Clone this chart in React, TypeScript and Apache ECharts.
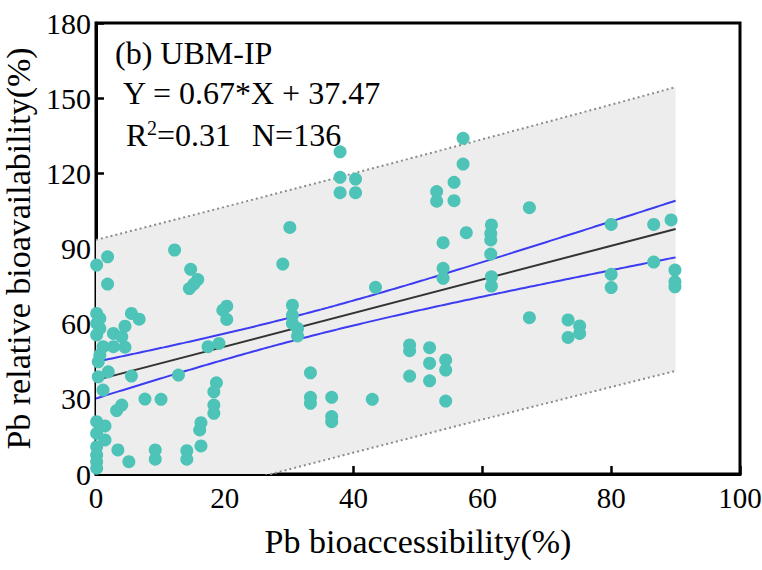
import React, { useEffect, useRef } from "react";
import * as echarts from "echarts";

// Pb bioaccessibility (%) of each sample, paired with bioavailability below
const bioaccessibility = [
  12.2, 1.8, 0.1, 1.8, 14.7, 15.8, 15.2, 14.5, 20.3, 19.7, 20.3, 0.1, 0.6, 0.1, 0.6, 0.1,
  5.5, 6.7, 4.5, 2.7, 4.0, 1.1, 2.7, 4.5, 0.6, 0.35, 17.4, 19.1, 1.9, 0.35, 5.5, 12.8,
  1.1, 18.7, 18.3, 7.6, 10.1, 4.0, 3.2, 18.3, 18.3, 0.1, 1.4, 0.1, 1.4, 0.1, 0.1, 0.1,
  0.1, 3.4, 5.1, 9.2, 9.2, 14.1, 14.1, 16.3, 16.1, 16.3,
  37.9, 37.9, 40.3, 37.9, 40.3, 30.1, 29.0, 57.0, 57.0, 55.6, 52.9, 52.9, 55.6, 57.5,
  53.9, 53.9, 53.9, 61.4, 61.3, 61.3, 61.3, 61.4, 61.4, 43.4, 30.5, 30.5, 30.5, 31.3,
  31.3, 33.3, 33.3, 33.3, 36.6, 36.6, 36.6, 42.9, 48.7, 48.7, 48.7, 51.8, 51.8, 51.8,
  54.3, 54.3, 54.3,
  67.3, 67.3, 80.0, 80.0, 80.0, 86.6, 89.3, 86.6, 89.9, 89.9, 89.9, 73.3, 73.3, 75.1, 75.1,
];

// Pb relative bioavailability (%)
const bioavailability = [
  89.4, 86.7, 83.4, 75.8, 81.7, 77.6, 75.8, 74.0, 67.0, 65.4, 61.7, 64.1, 62.1, 60.1, 58.1, 55.5,
  64.1, 61.8, 59.0, 56.1, 54.8, 50.8, 50.8, 50.6, 47.5, 44.8, 50.8, 52.1, 40.8, 38.8, 39.1, 39.5,
  33.5, 36.4, 32.8, 29.9, 29.8, 27.5, 25.3, 27.5, 24.2, 20.9, 19.2, 16.2, 13.6, 10.9, 7.6, 4.9,
  2.3, 9.6, 4.9, 9.6, 5.9, 9.3, 5.9, 20.5, 17.6, 11.2,
  128.6, 118.4, 117.7, 112.3, 112.3, 98.4, 83.8, 134.0, 123.7, 116.4, 112.7, 108.9, 109.1, 96.3,
  92.3, 82.1, 78.1, 99.4, 96.0, 93.4, 87.8, 78.7, 75.0, 74.5, 67.4, 63.4, 60.1, 58.1,
  55.1, 40.4, 30.6, 28.2, 30.6, 22.9, 20.9, 29.8, 51.5, 49.2, 39.1, 50.4, 44.2, 37.2,
  45.5, 41.5, 29.1,
  106.3, 62.4, 99.6, 79.7, 74.4, 99.6, 101.4, 84.6, 81.4, 76.7, 74.7, 61.5, 54.5, 59.1, 56.1,
];

// Linear fit Y = 0.67*X + 37.47 and the statistics behind its 95% bands
const fitSlope = 0.67;
const fitIntercept = 37.47;
const sampleCount = 136;
const tTimesResidualSE = 55.5;
const meanAccessibility = 31.6;
const sumSquaresAccessibility = 99900;
const fitRange = [0, 90];

const xAxisRange = { min: 0, max: 100, interval: 20 };
const yAxisRange = { min: 0, max: 180, interval: 30 };

const fitAt = (x: number) => fitSlope * x + fitIntercept;
const leverage = (x: number) =>
  1 / sampleCount + (x - meanAccessibility) ** 2 / sumSquaresAccessibility;
const confHalf = (x: number) => tTimesResidualSE * Math.sqrt(leverage(x));
const predHalf = (x: number) => tTimesResidualSE * Math.sqrt(1 + leverage(x));

const bandX: number[] = [];
for (let x = fitRange[0]; x <= fitRange[1] + 1e-9; x += 0.5) bandX.push(x);

const SERIF = "Liberation Serif";

const note = (text: string, x: number, y: number, fontSize = 32) => ({
  type: "text",
  x,
  y,
  z: 10,
  style: { text, fontFamily: SERIF, fontSize, fill: "#000", verticalAlign: "middle" },
});

export default function App() {
  const ref = useRef<HTMLDivElement>(null);

  useEffect(() => {
    if (!ref.current) return;
    const chart = echarts.init(ref.current, undefined, { renderer: "svg" });

    const points = bioaccessibility.map((x, i) => [x, bioavailability[i]]);

    chart.setOption({
      animation: false,
      backgroundColor: "#fff",
      grid: {
        left: 96,
        right: 22,
        top: 23,
        bottom: 96,
        outerBoundsMode: "none",
        containLabel: false,
        show: true,
        borderColor: "#000",
        borderWidth: 3,
        backgroundColor: "transparent",
      },
      xAxis: {
        type: "value",
        ...xAxisRange,
        name: "Pb bioaccessibility(%)",
        nameLocation: "middle",
        nameGap: 50,
        nameTextStyle: { fontFamily: SERIF, fontSize: 34, color: "#000" },
        axisLine: { show: true, lineStyle: { color: "#000", width: 3 } },
        axisTick: { show: true, inside: true, length: 8, lineStyle: { color: "#000", width: 2.5 } },
        axisLabel: { fontFamily: SERIF, fontSize: 29, color: "#000", margin: 9 },
        splitLine: { show: false },
      },
      yAxis: {
        type: "value",
        ...yAxisRange,
        name: "Pb relative bioavailability(%)",
        nameLocation: "middle",
        nameGap: 54,
        nameTextStyle: { fontFamily: SERIF, fontSize: 34, color: "#000" },
        axisLine: { show: true, lineStyle: { color: "#000", width: 3 } },
        axisTick: { show: true, inside: true, length: 8, lineStyle: { color: "#000", width: 2.5 } },
        axisLabel: { fontFamily: SERIF, fontSize: 30, color: "#000", margin: 5 },
        splitLine: { show: false },
      },
      series: [
        {
          // shaded 95% prediction band
          type: "custom",
          data: [[0, 0]],
          silent: true,
          z: 1,
          renderItem: (_params: any, api: any) => {
            const pts: number[][] = [];
            for (const x of bandX) pts.push(api.coord([x, fitAt(x) + predHalf(x)]));
            for (let i = bandX.length - 1; i >= 0; i--) {
              const x = bandX[i];
              pts.push(api.coord([x, Math.max(0, fitAt(x) - predHalf(x))]));
            }
            return { type: "polygon", shape: { points: pts }, style: { fill: "#ededed" } };
          },
        },
        {
          type: "line",
          data: bandX.map((x) => [x, fitAt(x) + predHalf(x)]),
          showSymbol: false,
          silent: true,
          z: 2,
          lineStyle: { color: "#8c8c8c", width: 2, type: [2, 3] },
        },
        {
          type: "line",
          data: bandX.map((x) => [x, fitAt(x) - predHalf(x)]),
          showSymbol: false,
          silent: true,
          z: 2,
          lineStyle: { color: "#8c8c8c", width: 2, type: [2, 3] },
        },
        {
          type: "line",
          data: bandX.map((x) => [x, fitAt(x) + confHalf(x)]),
          showSymbol: false,
          silent: true,
          z: 3,
          lineStyle: { color: "#3c3cf2", width: 2 },
        },
        {
          type: "line",
          data: bandX.map((x) => [x, fitAt(x) - confHalf(x)]),
          showSymbol: false,
          silent: true,
          z: 3,
          lineStyle: { color: "#3c3cf2", width: 2 },
        },
        {
          type: "line",
          data: fitRange.map((x) => [x, fitAt(x)]),
          showSymbol: false,
          silent: true,
          z: 3,
          lineStyle: { color: "#333", width: 2 },
        },
        {
          type: "scatter",
          data: points,
          symbolSize: 13,
          z: 4,
          itemStyle: { color: "#4ec3b7", opacity: 1 },
        },
      ],
      graphic: [
        note("(b) UBM-IP", 115, 53),
        note("Y = 0.67*X + 37.47", 123, 93),
        note("R", 126, 135),
        note("2", 147, 128, 20),
        note("=0.31", 157, 135),
        note("N=136", 252, 135),
      ],
    });

    return () => chart.dispose();
  }, []);

  return <div ref={ref} style={{ width: 762, height: 570, position: "absolute", left: 0, top: 0 }} />;
}
